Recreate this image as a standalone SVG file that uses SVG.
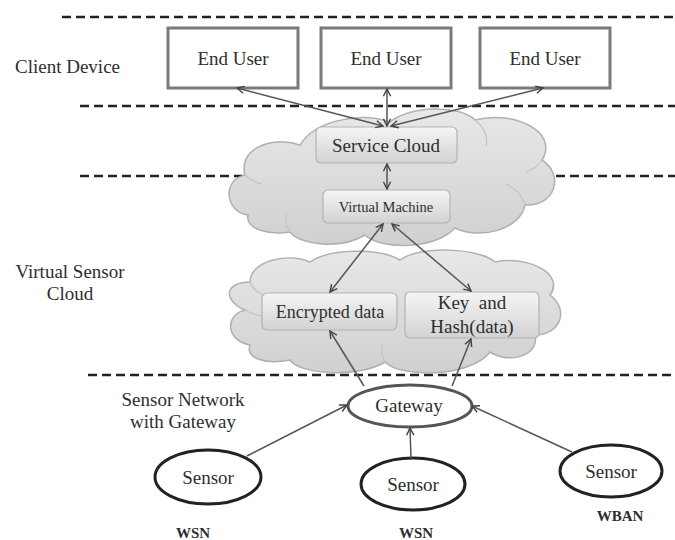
<svg xmlns="http://www.w3.org/2000/svg" width="675" height="540" viewBox="0 0 675 540">
  <defs>
    <linearGradient id="cloudFill" x1="0" y1="0" x2="0" y2="1">
      <stop offset="0" stop-color="#e8e8e8"/>
      <stop offset="1" stop-color="#d0d0d0"/>
    </linearGradient>
    <linearGradient id="boxFill" x1="0" y1="0" x2="0" y2="1">
      <stop offset="0" stop-color="#f5f5f5"/>
      <stop offset="1" stop-color="#d2d2d2"/>
    </linearGradient>
    <marker id="arrow" viewBox="0 0 10 10" refX="9" refY="5" markerWidth="9" markerHeight="9" markerUnits="userSpaceOnUse" orient="auto-start-reverse">
      <path d="M1,1 L9,5 L1,9" fill="none" stroke="#444" stroke-width="1.6"/>
    </marker>
  </defs>
  <style>
    text { font-family: "Liberation Serif", "Times New Roman", "DejaVu Serif", serif; fill: #2e2e2e; }
    .sep { stroke: #222; stroke-width: 2.4; stroke-dasharray: 9 5; fill: none; }
    .cloud { fill: url(#cloudFill); stroke: #b0b0b0; stroke-width: 1.5; }
    .lobe { fill: none; stroke: #c4c4c4; stroke-width: 1.2; }
    .cbox { fill: url(#boxFill); stroke: #b4b4b4; stroke-width: 1.2; }
    .user { fill: #fff; stroke: #7a7a7a; stroke-width: 3; }
    .sensor { fill: #fff; stroke: #222; stroke-width: 3; }
    .gw { fill: #fff; stroke: #555; stroke-width: 3; }
    .link { stroke: #555; stroke-width: 1.5; fill: none; }
  </style>

  <rect width="675" height="540" fill="#fff"/>

  <!-- layer separators -->
  <g id="separators">
    <line class="sep" x1="62" y1="17" x2="675" y2="17"/>
    <line class="sep" x1="80" y1="106" x2="675" y2="106"/>
    <line class="sep" x1="80" y1="176" x2="675" y2="176"/>
    <line class="sep" x1="88" y1="375" x2="675" y2="375"/>
  </g>

  <!-- layer captions -->
  <g id="captions" font-family="Liberation Serif, serif">
    <text x="15" y="73" font-size="19">Client Device</text>
    <text x="70" y="278" font-size="19" text-anchor="middle">Virtual Sensor</text>
    <text x="70" y="300" font-size="19" text-anchor="middle">Cloud</text>
    <text x="183" y="406" font-size="19" text-anchor="middle">Sensor Network</text>
    <text x="183" y="428" font-size="19" text-anchor="middle">with Gateway</text>
    <text x="193" y="538" font-size="15" font-weight="bold" text-anchor="middle">WSN</text>
    <text x="416" y="538" font-size="15" font-weight="bold" text-anchor="middle">WSN</text>
    <text x="620" y="521" font-size="15" font-weight="bold" text-anchor="middle">WBAN</text>
  </g>

  <!-- service / virtual machine cloud -->
  <g id="upper-cloud">
    <path class="cloud" d="M248,215 C225,212 222,180 245,175 C238,150 270,135 300,145 C315,120 360,112 390,122 C410,105 460,105 475,120 C510,110 560,130 542,160 C565,175 555,207 525,205 C520,230 480,240 455,228 C435,250 380,250 365,235 C340,250 300,245 290,232 C270,235 245,230 248,215 Z"/>
    <path class="lobe" d="M475,120 C485,128 488,138 486,146"/>
    <path class="lobe" d="M542,160 C538,166 532,170 526,172"/>
    <path class="lobe" d="M525,205 C522,195 515,188 506,184"/>
    <path class="lobe" d="M245,175 C250,180 256,183 262,184"/>
    <path class="lobe" d="M290,232 C286,226 285,220 286,214"/>
  </g>

  <!-- data storage cloud -->
  <g id="lower-cloud">
    <path class="cloud" d="M250,345 C225,340 225,315 245,310 C222,300 225,282 250,282 C250,262 285,252 310,262 C330,248 380,248 400,260 C420,245 480,248 495,262 C530,255 565,275 550,295 C570,310 560,335 535,335 C540,355 510,365 490,352 C470,378 400,378 385,362 C360,378 300,375 290,360 C265,365 245,358 250,345 Z"/>
    <path class="lobe" d="M245,310 C252,314 258,316 264,316"/>
    <path class="lobe" d="M250,282 C252,288 256,292 262,294"/>
    <path class="lobe" d="M385,362 C382,356 381,350 382,344"/>
    <path class="lobe" d="M535,335 C532,327 526,321 518,318"/>
  </g>

  <g id="end-user-1">
    <rect class="user" x="168" y="28" width="130" height="60"/>
    <text x="233" y="65" font-size="19" text-anchor="middle">End User</text>
  </g>
  <g id="end-user-2">
    <rect class="user" x="321" y="28" width="130" height="60"/>
    <text x="386" y="65" font-size="19" text-anchor="middle">End User</text>
  </g>
  <g id="end-user-3">
    <rect class="user" x="480" y="28" width="130" height="60"/>
    <text x="545" y="65" font-size="19" text-anchor="middle">End User</text>
  </g>

  <g id="service-cloud">
    <rect class="cbox" x="316" y="127" width="141" height="36" rx="5"/>
    <text x="386" y="152" font-size="19" text-anchor="middle">Service Cloud</text>
  </g>

  <g id="virtual-machine">
    <rect class="cbox" x="323" y="190" width="127" height="33" rx="5"/>
    <text x="386" y="212" font-size="14.5" text-anchor="middle">Virtual Machine</text>
  </g>

  <g id="encrypted-data">
    <rect class="cbox" x="262" y="293" width="135" height="37" rx="5"/>
    <text x="330" y="318" font-size="18" text-anchor="middle">Encrypted data</text>
  </g>

  <g id="key-hash">
    <rect class="cbox" x="405" y="292" width="134" height="46" rx="5"/>
    <text x="472" y="309" font-size="19" text-anchor="middle" xml:space="preserve">Key  and</text>
    <text x="472" y="333" font-size="19" text-anchor="middle">Hash(data)</text>
  </g>

  <g id="gateway">
    <ellipse class="gw" cx="410" cy="406" rx="62" ry="21"/>
    <text x="409" y="412" font-size="19" text-anchor="middle">Gateway</text>
  </g>

  <g id="sensor-left">
    <ellipse class="sensor" cx="208" cy="477" rx="53" ry="27"/>
    <text x="208" y="484" font-size="19" text-anchor="middle">Sensor</text>
  </g>
  <g id="sensor-middle">
    <ellipse class="sensor" cx="413" cy="484" rx="52" ry="26"/>
    <text x="413" y="491" font-size="19" text-anchor="middle">Sensor</text>
  </g>
  <g id="sensor-right">
    <ellipse class="sensor" cx="611" cy="471" rx="51" ry="26"/>
    <text x="611" y="478" font-size="19" text-anchor="middle">Sensor</text>
  </g>

  <!-- connectors -->
  <g id="connectors">
    <line class="link" x1="383" y1="126" x2="237" y2="88" marker-start="url(#arrow)" marker-end="url(#arrow)"/>
    <line class="link" x1="387" y1="126" x2="387" y2="89" marker-start="url(#arrow)" marker-end="url(#arrow)"/>
    <line class="link" x1="391" y1="126" x2="543" y2="88" marker-start="url(#arrow)" marker-end="url(#arrow)"/>
    <line class="link" x1="387" y1="164" x2="387" y2="189" marker-start="url(#arrow)" marker-end="url(#arrow)"/>
    <line class="link" x1="383" y1="224" x2="330" y2="292" marker-start="url(#arrow)" marker-end="url(#arrow)"/>
    <line class="link" x1="392" y1="224" x2="471" y2="291" marker-start="url(#arrow)" marker-end="url(#arrow)"/>
    <line class="link" x1="364" y1="386" x2="330" y2="331" marker-end="url(#arrow)"/>
    <line class="link" x1="452" y1="386" x2="471" y2="339" marker-end="url(#arrow)"/>
    <line class="link" x1="247" y1="456" x2="347" y2="405" marker-end="url(#arrow)"/>
    <line class="link" x1="411" y1="458" x2="410" y2="428" marker-end="url(#arrow)"/>
    <line class="link" x1="572" y1="452" x2="472" y2="406" marker-end="url(#arrow)"/>
  </g>
</svg>
